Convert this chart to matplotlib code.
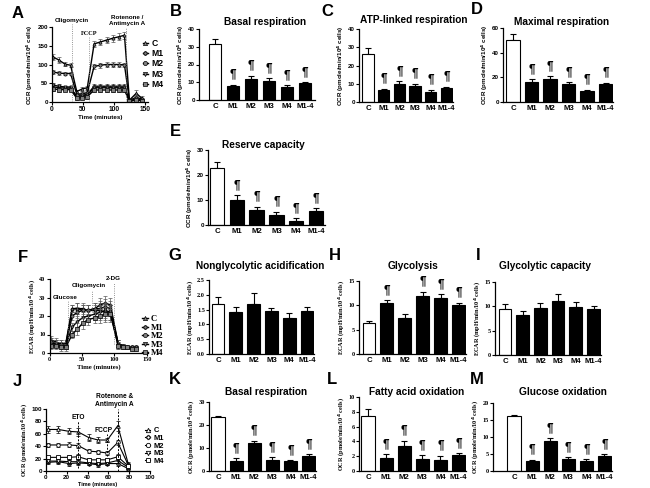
import matplotlib
matplotlib.use("Agg")
import matplotlib.pyplot as plt
import numpy as np

SANS = "Liberation Sans"
SERIF = "Liberation Serif"

plt.rcParams["font.family"] = SANS
plt.rcParams["font.weight"] = "bold"
plt.rcParams["axes.linewidth"] = 0.9

groups = ["C", "M1", "M2", "M3", "M4", "M1-4"]
lines = ["C", "M1", "M2", "M3", "M4"]
markers = ["^", "P", "o", "v", "s"]

# A - OCR time course (mito stress test)
time_a = [2, 11, 21, 30, 40, 49, 57, 68, 78, 88, 98, 108, 117, 125, 136, 145]
ocr_a_c = [120, 112, 101, 98, 28, 35, 38, 155, 160, 165, 170, 174, 178, 5, 23, 10]
ocr_a_m1 = [40, 38, 37, 37, 15, 18, 20, 42, 42, 42, 42, 42, 42, 3, 8, 5]
ocr_a_m2 = [80, 77, 76, 76, 20, 22, 25, 95, 98, 100, 100, 100, 99, 5, 12, 8]
ocr_a_m3 = [45, 42, 40, 40, 12, 15, 18, 38, 38, 38, 38, 38, 38, 2, 6, 4]
ocr_a_m4 = [35, 33, 33, 33, 10, 12, 14, 32, 32, 32, 32, 32, 32, 2, 5, 3]
err_a_c = [8, 7, 6, 5, 5, 5, 5, 8, 8, 8, 9, 9, 10, 3, 8, 5]
err_a_m = [5, 5, 4, 4, 5, 5, 5, 6, 6, 6, 6, 6, 6, 3, 5, 3]

# F - ECAR time course (glycolysis stress test)
time_f = [3, 10, 17, 25, 35, 43, 51, 59, 70, 78, 86, 94, 106, 113, 120, 127, 133]
ecar_f_c = [7, 6, 5, 5, 24, 24, 23, 23, 23, 23, 22, 22, 5, 4, 3, 3, 3]
ecar_f_m1 = [6, 5, 5, 4, 24, 24, 24, 23, 24, 26, 27, 26, 5, 4, 3, 3, 3]
ecar_f_m2 = [5, 5, 4, 4, 20, 22, 23, 23, 24, 24, 25, 24, 5, 4, 3, 3, 3]
ecar_f_m3 = [6, 5, 4, 4, 14, 17, 19, 20, 21, 22, 23, 22, 4, 3, 3, 3, 3]
ecar_f_m4 = [4, 4, 3, 3, 10, 13, 16, 18, 19, 20, 21, 21, 4, 3, 3, 2, 2]
err_f = [2, 2, 2, 2, 2, 3, 3, 3, 3, 4, 4, 4, 2, 1, 1, 1, 1]

# J - OCR time course (ETO / FCCP / rotenone)
time_j = [2, 12, 22, 31, 41, 50, 59, 69, 79]
ocr_j_c = [67, 67, 64, 63, 54, 50, 50, 73, 12]
ocr_j_m1 = [14, 15, 12, 13, 12, 10, 12, 12, 4]
ocr_j_m2 = [42, 42, 42, 41, 32, 31, 29, 46, 10]
ocr_j_m3 = [16, 16, 15, 15, 13, 12, 13, 17, 6]
ocr_j_m4 = [22, 22, 22, 23, 18, 18, 18, 23, 8]
err_j_c = [6, 5, 5, 6, 5, 5, 4, 8, 3]
err_j_m = [3, 3, 4, 4, 3, 3, 3, 4, 3]

# bar panels
basal_b = [31.5, 7.9, 12.0, 10.8, 7.3, 9.4]
basal_b_err = [2.8, 0.7, 1.7, 1.4, 1.1, 0.6]
atp_c = [26.5, 6.8, 9.8, 8.7, 5.6, 7.8]
atp_c_err = [3.0, 0.5, 1.5, 1.4, 1.2, 0.5]
maximal_d = [50.5, 16.0, 18.3, 14.2, 9.0, 14.4]
maximal_d_err = [4.5, 2.5, 2.7, 1.8, 1.0, 1.1]
reserve_e = [22.9, 10.0, 6.0, 4.0, 1.7, 5.6]
reserve_e_err = [2.4, 2.0, 1.3, 1.3, 1.0, 1.1]
nonglyc_g = [1.69, 1.43, 1.68, 1.46, 1.23, 1.45]
nonglyc_g_err = [0.25, 0.17, 0.39, 0.11, 0.17, 0.15]
glycolysis_h = [6.3, 10.4, 7.4, 11.9, 11.6, 10.0]
glycolysis_h_err = [0.5, 0.7, 0.8, 0.9, 0.7, 0.5]
glycap_i = [9.5, 8.3, 9.7, 11.1, 9.9, 9.5]
glycap_i_err = [0.9, 0.8, 1.0, 1.5, 1.0, 0.6]
basal_k = [23.5, 4.4, 12.0, 5.0, 4.4, 6.5]
basal_k_err = [0.6, 1.1, 1.1, 0.9, 0.4, 0.7]
fao_l = [7.5, 1.8, 3.4, 1.6, 1.5, 2.1]
fao_l_err = [0.9, 0.5, 0.7, 0.55, 0.55, 0.3]
gluox_m = [16.1, 2.8, 8.7, 3.4, 2.9, 4.4]
gluox_m_err = [0.5, 0.5, 1.0, 0.7, 0.5, 0.6]

all_m = ["M1", "M2", "M3", "M4", "M1-4"]

OCR_LABEL = "OCR (pmole/min/10$^4$ cells)"
ECAR_LABEL = "ECAR (mpH/min/10$^4$ cells)"

W, H = 650, 488
fig = plt.figure(figsize=(W / 100, H / 100), dpi=100)


def axes_px(x0, x1, ytop, ybot):
    # place an axes using pixel coords of the reference picture
    return fig.add_axes([x0 / W, 1 - ybot / H, (x1 - x0) / W, (ybot - ytop) / H])


def px_text(x, y, s, size, family=SANS, **kw):
    fig.text(x / W, 1 - y / H, s, fontsize=size, fontweight="bold", family=family,
             ha="center", va="center", **kw)


def style(ax, yticks, ylabels, tick_family, ylabel, label_family):
    for s in ["top", "right"]:
        ax.spines[s].set_visible(False)
    ax.set_yticks(yticks)
    ax.set_yticklabels(ylabels, fontsize=4.5, fontweight="bold", family=tick_family)
    ax.tick_params(axis="y", length=2, width=0.8, pad=1)
    ax.set_ylabel(ylabel, fontsize=4.5, fontweight="bold", family=label_family, labelpad=1.5)


def bar_panel(x0, x1, ytop, ybot, c_px, step, vals, errs, ymax, ystep, ylabel,
              serif=False, marked=(), fmt="%d"):
    ax = axes_px(x0, x1, ytop, ybot)
    x = np.arange(len(groups))
    colors = ["white"] + ["black"] * (len(groups) - 1)
    ax.bar(x, vals, width=0.72, color=colors, edgecolor="black", linewidth=0.8, zorder=2)
    ax.errorbar(x, vals, yerr=[np.zeros(len(vals)), errs], fmt="none", ecolor="black",
                elinewidth=0.8, capsize=2.2, capthick=0.8, zorder=1)
    ax.set_xlim(-(c_px - x0) / step, (x1 - c_px) / step)
    ax.set_ylim(0, ymax)
    ticks = np.arange(0, ymax + ystep / 2, ystep)
    fam = SERIF if serif else SANS
    style(ax, ticks, [fmt % t for t in ticks], fam, ylabel, fam)
    ax.set_xticks(x)
    ax.set_xticklabels(groups, fontsize=5.6, fontweight="bold", family=SANS)
    ax.tick_params(axis="x", length=0, pad=2)
    for i, g in enumerate(groups):
        if g in marked:
            ax.annotate("¶", (i, vals[i] + errs[i]), xytext=(0, 3), textcoords="offset points",
                        ha="center", va="bottom", fontsize=8.5, fontweight="bold")
    return ax


# ---- A
ax = axes_px(52, 148, 27, 102)
series_a = [ocr_a_c, ocr_a_m1, ocr_a_m2, ocr_a_m3, ocr_a_m4]
for k, ys in enumerate(series_a):
    e = err_a_c if k == 0 else err_a_m
    ax.errorbar(time_a, ys, yerr=e, fmt="none", ecolor="0.35", elinewidth=0.5, capsize=1.2, capthick=0.5)
    ax.plot(time_a, ys, color="black", lw=1.0, marker=markers[k], ms=2.3, mfc="0.5", mec="black",
            mew=0.5, label=lines[k])
for xv, top in [(32, 207), (60, 176), (120, 198)]:
    ax.plot([xv, xv], [0, top], ls=":", color="0.45", lw=0.6, clip_on=False)
ax.text(32, 211, "Oligomycin", fontsize=4.5, fontweight="bold", ha="center", va="bottom")
ax.text(60, 184, "FCCP", fontsize=4.5, fontweight="bold", family=SERIF, ha="center", va="center")
ax.text(122, 203, "Rotenone /\nAntimycin A", fontsize=4.5, fontweight="bold", ha="center",
        va="bottom", linespacing=1.1)
ax.set_xlim(0, 155)
ax.set_ylim(0, 200)
style(ax, [0, 50, 100, 150, 200], ["0", "50", "100", "150", "200"], SANS, OCR_LABEL, SANS)
ax.set_xticks([0, 50, 100, 150])
ax.set_xticklabels(["0", "50", "100", "150"], fontsize=4.8, fontweight="bold")
ax.tick_params(axis="x", length=2, width=0.8, pad=1)
ax.set_xlabel("Time (minutes)", fontsize=4.5, fontweight="bold", labelpad=1.5)
ax.legend(loc="upper left", bbox_to_anchor=(0.9, 0.9), frameon=False, fontsize=6.2,
          handlelength=0.6, handletextpad=0.4, labelspacing=0.15, borderpad=0, markerscale=1.3)

# ---- F
ax = axes_px(49.5, 148, 279, 353)
series_f = [ecar_f_c, ecar_f_m1, ecar_f_m2, ecar_f_m3, ecar_f_m4]
for k, ys in enumerate(series_f):
    ax.errorbar(time_f, ys, yerr=err_f, fmt="none", ecolor="0.35", elinewidth=0.5, capsize=1.2, capthick=0.5)
    ax.plot(time_f, ys, color="black", lw=1.0, marker=markers[k], ms=2.3, mfc="0.5", mec="black",
            mew=0.5, label=lines[k])
for xv, y0, top in [(28, 5, 28), (65, 22, 34), (100, 5, 38)]:
    ax.plot([xv, xv], [y0, top], ls=":", color="0.45", lw=0.6, clip_on=False)
ax.text(24, 30, "Glucose", fontsize=4.5, fontweight="bold", ha="center", va="center")
ax.text(61, 36.4, "Oligomycin", fontsize=4.5, fontweight="bold", ha="center", va="center")
ax.text(98, 40, "2-DG", fontsize=4.5, fontweight="bold", ha="center", va="center")
ax.set_xlim(0, 152)
ax.set_ylim(0, 40)
style(ax, [0, 10, 20, 30, 40], ["0", "10", "20", "30", "40"], SERIF, ECAR_LABEL, SERIF)
ax.set_xticks([0, 50, 100, 150])
ax.set_xticklabels(["0", "50", "100", "150"], fontsize=4.5, fontweight="bold", family=SERIF)
ax.tick_params(axis="x", length=2, width=0.8, pad=1)
ax.set_xlabel("Time (minutes)", fontsize=4.8, fontweight="bold", family=SERIF, labelpad=1.5)
ax.legend(loc="upper left", bbox_to_anchor=(0.9, 0.57), frameon=False,
          prop={"family": SERIF, "size": 6.2, "weight": "bold"}, markerscale=1.3,
          handlelength=0.6, handletextpad=0.4, labelspacing=0.05, borderpad=0)

# ---- J
ax = axes_px(46, 150, 409, 471)
series_j = [ocr_j_c, ocr_j_m1, ocr_j_m2, ocr_j_m3, ocr_j_m4]
for k, ys in enumerate(series_j):
    e = err_j_c if k == 0 else err_j_m
    ax.errorbar(time_j, ys, yerr=e, fmt="none", ecolor="black", elinewidth=0.5, capsize=1.5, capthick=0.5)
    ax.plot(time_j, ys, color="black", lw=0.8, marker=markers[k], ms=2.6, mfc="white", mec="black",
            mew=0.6, label=lines[k])
for xv, y0, top in [(31, 5, 80), (59, 25, 60), (69, 0, 100)]:
    ax.plot([xv, xv], [y0, top], ls="--", color="black", lw=0.7, dashes=(2, 1.5), clip_on=False)
ax.text(31, 86, "ETO", fontsize=4.8, fontweight="bold", ha="center", va="center")
ax.text(55, 66, "FCCP", fontsize=4.8, fontweight="bold", ha="center", va="center")
ax.text(66, 102, "Rotenone &\nAntimycin A", fontsize=4.8, fontweight="bold", ha="center",
        va="bottom", linespacing=1.2)
ax.set_xlim(0, 100)
ax.set_ylim(0, 100)
style(ax, np.arange(0, 101, 20), [str(v) for v in range(0, 101, 20)], SANS, OCR_LABEL, SERIF)
ax.set_xticks(np.arange(0, 101, 20))
ax.set_xticklabels([str(v) for v in range(0, 101, 20)], fontsize=4.5, fontweight="bold")
ax.tick_params(axis="x", length=2, width=0.8, pad=1)
ax.set_xlabel("Time (minutes)", fontsize=4, fontweight="bold", labelpad=1)
ax.legend(loc="upper left", bbox_to_anchor=(0.92, 0.77), frameon=False, fontsize=5.4,
          handlelength=0.6, handletextpad=0.5, labelspacing=0.05, borderpad=0, markerscale=1.2)

# ---- bar panels
bar_panel(199, 315, 29, 100, 215, 18.0, basal_b, basal_b_err, 40, 10, OCR_LABEL, marked=all_m)
bar_panel(359, 453, 29, 102, 368, 15.7, atp_c, atp_c_err, 40, 10, OCR_LABEL, marked=all_m)
bar_panel(503, 613, 28, 102, 513, 18.5, maximal_d, maximal_d_err, 60, 20, OCR_LABEL, marked=all_m)
bar_panel(208, 325, 150, 225, 217, 19.8, reserve_e, reserve_e_err, 30, 10, OCR_LABEL, marked=all_m)
bar_panel(209, 314, 280, 354, 218, 17.8, nonglyc_g, nonglyc_g_err, 2.5, 0.5, ECAR_LABEL,
          serif=True, fmt="%.1f")
bar_panel(359, 466, 281, 354, 369, 17.9, glycolysis_h, glycolysis_h_err, 15, 5, ECAR_LABEL,
          serif=True, marked=["M1", "M3", "M4", "M1-4"])
bar_panel(495, 601, 282, 355, 505, 17.7, glycap_i, glycap_i_err, 15, 5, ECAR_LABEL, serif=True)
bar_panel(209, 316, 402, 471, 218, 18.1, basal_k, basal_k_err, 30, 10, OCR_LABEL, serif=True, marked=all_m)
bar_panel(359, 466, 397, 471, 368, 18.1, fao_l, fao_l_err, 10, 2, OCR_LABEL, serif=True, marked=all_m)
bar_panel(493, 612, 403, 471, 514, 18.1, gluox_m, gluox_m_err, 20, 5, OCR_LABEL, serif=True, marked=all_m)

# titles
px_text(265, 22, "Basal respiration", 7.3)
px_text(414, 20, "ATP-linked respiration", 7.3)
px_text(562, 22, "Maximal respiration", 7.3)
px_text(263, 145, "Reserve capacity", 7.3)
px_text(260, 266, "Nonglycolytic acidification", 7.3)
px_text(413, 266, "Glycolysis", 7.3)
px_text(545, 266, "Glycolytic capacity", 7.3)
px_text(266, 392, "Basal respiration", 7.3)
px_text(417, 392, "Fatty acid oxidation", 7.3)
px_text(563, 392, "Glucose oxidation", 7.3)

# panel letters
for s, x, y in [("A", 18, 13), ("B", 176, 12), ("C", 327, 11), ("D", 477, 10),
                ("E", 175, 131), ("F", 23, 257), ("G", 175, 255), ("H", 335, 255),
                ("I", 478, 255), ("J", 17, 381), ("K", 175, 380), ("L", 332, 380),
                ("M", 477, 380)]:
    px_text(x, y, s, 12)

fig.savefig("out.png", dpi=100)
